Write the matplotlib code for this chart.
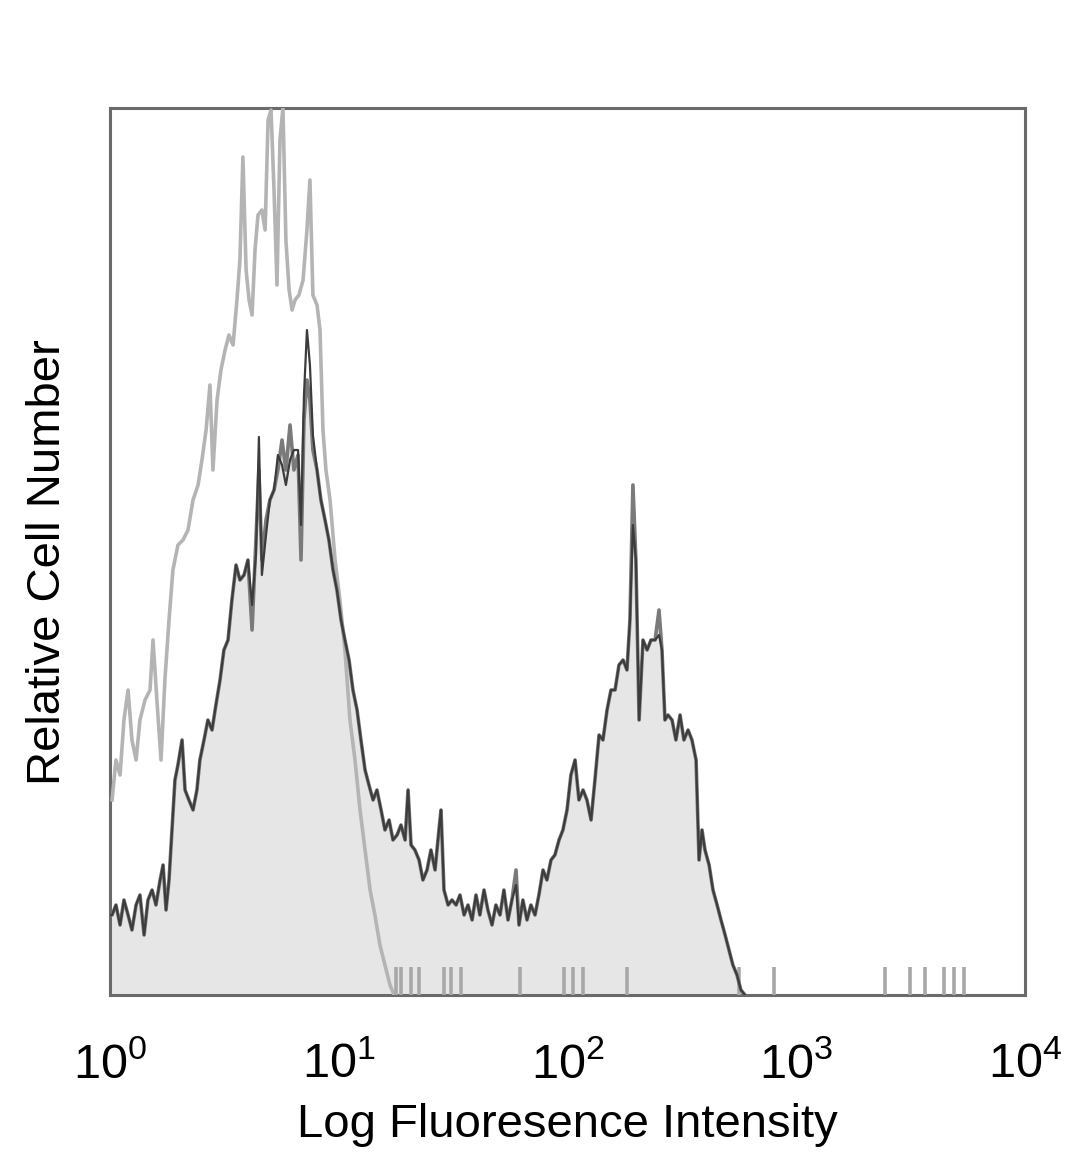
import matplotlib
matplotlib.use("Agg")
import matplotlib.pyplot as plt
import numpy as np
from matplotlib import font_manager

# ---------------- data (log10 fluorescence, relative counts) ----------------
iso_log = [0.009, 0.026, 0.044, 0.061, 0.079, 0.096, 0.114, 0.131, 0.153, 0.175,
           0.188, 0.205, 0.223, 0.240, 0.258, 0.275, 0.297, 0.319, 0.341, 0.363,
           0.385, 0.402, 0.420, 0.437, 0.450, 0.468, 0.485, 0.503, 0.520, 0.538,
           0.555, 0.568, 0.581, 0.595, 0.608, 0.621, 0.634, 0.647, 0.664, 0.678,
           0.691, 0.704, 0.717, 0.730, 0.743, 0.756, 0.769, 0.783, 0.796, 0.809,
           0.826, 0.844, 0.861, 0.874, 0.887, 0.905, 0.918, 0.931, 0.944, 0.962,
           0.984, 1.005, 1.027, 1.049, 1.071, 1.093, 1.115, 1.137, 1.158, 1.180,
           1.202, 1.224, 1.242]
iso_count = [195, 235, 220, 275, 305, 255, 235, 275, 295, 305,
             355, 295, 235, 315, 375, 425, 450, 455, 465, 495,
             510, 535, 565, 610, 525, 595, 625, 645, 660, 650,
             695, 735, 838, 725, 695, 680, 745, 780, 785, 765,
             875, 885, 805, 710, 855, 887, 755, 705, 685, 695,
             700, 715, 765, 815, 700, 690, 665, 565, 525, 495,
             435, 395, 345, 275, 235, 185, 145, 105, 80, 50,
             30, 10, 0]

# sparse single events of the control sample above the main peak
iso_event_log = [1.250, 1.272, 1.316, 1.351, 1.460, 1.491, 1.534, 1.792, 1.985, 2.024,
                 2.068, 2.260, 2.750, 2.903, 3.388, 3.497, 3.563, 3.646, 3.690, 3.733]
iso_event_count = [28, 28, 28, 28, 28, 28, 28, 28, 28, 28,
                   28, 28, 28, 28, 28, 28, 28, 28, 28, 28]

sample_log = [0.000, 0.009, 0.026, 0.044, 0.061, 0.079, 0.096, 0.114, 0.131, 0.149,
              0.166, 0.184, 0.201, 0.219, 0.232, 0.245, 0.258, 0.271, 0.284, 0.297,
              0.315, 0.328, 0.345, 0.363, 0.380, 0.393, 0.411, 0.428, 0.446, 0.463,
              0.481, 0.498, 0.516, 0.533, 0.551, 0.568, 0.586, 0.603, 0.621, 0.638,
              0.651, 0.664, 0.682, 0.699, 0.717, 0.734, 0.752, 0.769, 0.787, 0.804,
              0.822, 0.835, 0.848, 0.861, 0.874, 0.887, 0.905, 0.922, 0.940, 0.957,
              0.975, 0.992, 1.010, 1.027, 1.045, 1.062, 1.080, 1.097, 1.115, 1.132,
              1.150, 1.167, 1.185, 1.202, 1.220, 1.237, 1.255, 1.272, 1.290, 1.303,
              1.316, 1.333, 1.351, 1.368, 1.386, 1.403, 1.421, 1.438, 1.447, 1.460,
              1.478, 1.495, 1.513, 1.530, 1.548, 1.565, 1.583, 1.600, 1.617, 1.635,
              1.652, 1.670, 1.687, 1.705, 1.722, 1.740, 1.757, 1.775, 1.788, 1.805,
              1.823, 1.840, 1.858, 1.875, 1.893, 1.910, 1.928, 1.945, 1.963, 1.980,
              1.998, 2.015, 2.033, 2.050, 2.068, 2.085, 2.103, 2.120, 2.138, 2.155,
              2.173, 2.190, 2.208, 2.225, 2.243, 2.260, 2.273, 2.286, 2.299, 2.313,
              2.330, 2.348, 2.365, 2.383, 2.400, 2.413, 2.426, 2.439, 2.457, 2.474,
              2.492, 2.509, 2.527, 2.544, 2.562, 2.575, 2.588, 2.601, 2.619, 2.636,
              2.654, 2.671, 2.689, 2.706, 2.723, 2.741, 2.758, 2.776]
sample_count = [80, 80, 90, 70, 95, 80, 65, 90, 100, 60,
                95, 105, 90, 115, 130, 85, 115, 165, 215, 230,
                255, 205, 195, 185, 205, 235, 255, 275, 265, 290,
                315, 345, 355, 395, 430, 415, 420, 435, 365, 455,
                525, 435, 475, 495, 505, 525, 555, 525, 570, 525,
                540, 435, 575, 615, 595, 545, 525, 495, 475, 455,
                425, 405, 375, 355, 335, 305, 285, 255, 225, 210,
                195, 205, 185, 165, 175, 155, 160, 170, 155, 205,
                150, 145, 135, 115, 125, 145, 125, 165, 185, 105,
                90, 95, 90, 100, 80, 90, 75, 100, 80, 105,
                85, 70, 90, 80, 105, 75, 95, 125, 70, 95,
                75, 90, 80, 100, 125, 115, 135, 140, 155, 165,
                185, 220, 235, 195, 205, 195, 175, 215, 260, 255,
                285, 305, 305, 330, 335, 325, 375, 510, 435, 275,
                355, 345, 355, 355, 385, 345, 275, 280, 275, 255,
                280, 255, 265, 255, 235, 135, 165, 145, 130, 105,
                90, 75, 60, 45, 30, 20, 5, 0]
sample2_count = [80, 80, 90, 70, 95, 80, 65, 90, 100, 60,
                 95, 105, 90, 115, 130, 85, 115, 165, 215, 230,
                 255, 205, 195, 185, 205, 235, 255, 275, 265, 290,
                 315, 345, 355, 395, 430, 415, 420, 435, 390, 440,
                 558, 420, 460, 495, 505, 540, 530, 510, 535, 545,
                 545, 470, 600, 665, 630, 560, 525, 495, 475, 455,
                 425, 405, 375, 355, 335, 305, 285, 255, 225, 210,
                 195, 205, 185, 165, 175, 155, 160, 170, 155, 205,
                 150, 145, 135, 115, 125, 145, 125, 165, 185, 105,
                 90, 95, 90, 100, 80, 90, 75, 100, 80, 105,
                 85, 70, 90, 80, 105, 75, 95, 110, 70, 95,
                 75, 90, 80, 100, 125, 115, 135, 140, 155, 165,
                 185, 220, 235, 195, 205, 195, 175, 215, 260, 255,
                 285, 305, 305, 330, 335, 325, 375, 470, 435, 275,
                 355, 345, 355, 355, 360, 345, 275, 280, 275, 255,
                 280, 255, 265, 255, 235, 135, 165, 145, 130, 105,
                 90, 75, 60, 45, 30, 20, 5, 0]

x_ticks = [1, 10, 100, 1000, 10000]
x_ticklabels = [r"$10^{0}$", r"$10^{1}$", r"$10^{2}$", r"$10^{3}$", r"$10^{4}$"]
x_label = "Log Fluoresence Intensity"
y_label = "Relative Cell Number"

# ---------------- fonts ----------------
avail = {f.name for f in font_manager.fontManager.ttflist}
fam = "Liberation Sans Narrow" if "Liberation Sans Narrow" in avail else "Liberation Sans"
plt.rcParams["font.family"] = [fam, "DejaVu Sans"]
plt.rcParams["mathtext.fontset"] = "custom"
plt.rcParams["mathtext.rm"] = fam
plt.rcParams["mathtext.it"] = fam
plt.rcParams["mathtext.bf"] = fam

# ---------------- figure ----------------
fig = plt.figure(figsize=(10.8, 11.69), dpi=100)
ax = fig.add_axes([110 / 1080, 1 - 995 / 1169, 915 / 1080, 887 / 1169])

sx = 10 ** np.array(sample_log)
ax.fill_between(sx, sample_count, 0, color="#e6e6e6", lw=0, zorder=1)

ix = 10 ** np.array(iso_log)
ax.plot(ix, iso_count, color="#b4b4b4", lw=2.6, zorder=3)
ax.vlines(10 ** np.array(iso_event_log), 0, iso_event_count, color="#a8a8a8", lw=2.6, zorder=3)

ax.plot(sx, sample_count, color="#7a7a7a", lw=2.6, zorder=4)
ax.plot(sx, sample2_count, color="#3c3c3c", lw=1.6, zorder=5)

ax.set_xscale("log")
ax.set_xlim(1, 10000)
ax.set_ylim(0, 887)
ax.set_xticks(x_ticks)
ax.set_xticklabels(x_ticklabels, fontsize=35)
ax.xaxis.set_minor_locator(matplotlib.ticker.NullLocator())
ax.set_yticks([])
ax.tick_params(axis="x", length=0, pad=34)

for sp in ax.spines.values():
    sp.set_color("#6a6a6a")
    sp.set_linewidth(2.2)

ax.set_xlabel(x_label, fontsize=34)
ax.xaxis.set_label_coords(0.5, -0.147)
ax.xaxis.label.set_verticalalignment("center")
ax.set_ylabel(y_label, fontsize=34)
ax.yaxis.set_label_coords(-0.068, 0.488)
ax.yaxis.label.set_verticalalignment("center")

fig.savefig("out.png", dpi=100, facecolor="white")
